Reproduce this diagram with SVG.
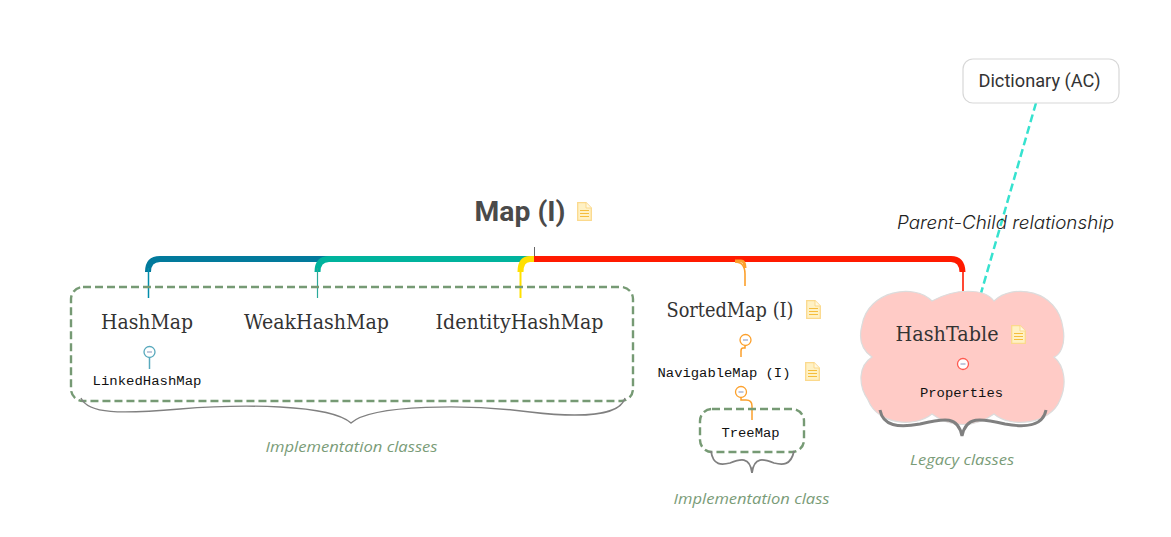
<svg xmlns="http://www.w3.org/2000/svg" width="1171" height="537" viewBox="0 0 1171 537">
<style>
.slab{font-family:"DejaVu Serif","Liberation Serif",serif;fill:#333;font-size:20px}
.mono{font-family:"Liberation Mono",monospace;fill:#111;font-size:12px}
.note{font-family:"Open Sans","Lato",sans-serif;font-style:italic;fill:#7a9c78;font-size:15px}
.dash{fill:none;stroke:#769a74;stroke-width:2.4;stroke-dasharray:8 4}
.brace{fill:none;stroke:#808080}
.col{fill:#fff;stroke-width:1.3}
.minus{fill:#c3c9dc}
</style>
<defs>
<g id="doc">
<path d="M0.700 0.700H9L14.300 6V18.300H0.700Z" fill="#fff1c4" stroke="#fbd98c" stroke-width="1.300"/>
<path d="M9 0.700V6H14.300" fill="#fff8e0" stroke="#fbd98c" stroke-width="1"/>
<path d="M3 8.500H12M3 11.500H12M3 14.500H12" stroke="#f5bd3c" stroke-width="1.100" fill="none"/>
</g>
</defs>
<g id="connectors" fill="none">
<path d="M534.500 247V262" stroke="#666" stroke-width="1"/>
<path d="M534 259H160Q148 259 148 272" stroke="#027a9c" stroke-width="6"/>
<path d="M148.500 268V298" stroke="#028cab" stroke-width="1.500"/>
<path d="M534 259H329Q317.500 259 317.500 272" stroke="#00b39d" stroke-width="6"/>
<path d="M317.500 268V298" stroke="#2aa99a" stroke-width="1.200"/>
<path d="M534 259H530Q520.500 259 520.500 272" stroke="#ffe000" stroke-width="6"/>
<path d="M520.500 268V298" stroke="#ffe000" stroke-width="2"/>
<path d="M534 259H951Q962 259 962.500 272" stroke="#ff1a00" stroke-width="6"/>
<path d="M963 268V310" stroke="#ff1a00" stroke-width="1.600"/>
<path d="M735 262Q745 262 745 274V286" stroke="#fca02c" stroke-width="1.600"/>
<path d="M735 261H741Q745 261 745 268" stroke="#fca02c" stroke-width="3"/>
<path d="M149.500 358V369" stroke="#58a9bd" stroke-width="1.500"/>
<path d="M745 347V351Q745 348 742 348" stroke="none"/>
<path d="M745 346V348H743Q741 348 741 351V357" stroke="#fca02c" stroke-width="1.500"/>
<path d="M741 398V400H746Q752 400 752 406V420" stroke="#fca02c" stroke-width="1.500"/>
<path d="M963 370V381" stroke="#ff6b60" stroke-width="1.700"/>
<path d="M1036 103L977 307" stroke="#36e2cf" stroke-width="2.500" stroke-dasharray="8 4"/>
<path d="M975 299L976 311L985 305" stroke="#36e2cf" stroke-width="2.500"/>
<path d="M1036 103L977 307" stroke="none"/>
</g>
<g id="map-root">
<text x="520" y="221" font-family="Roboto,sans-serif" font-weight="700" font-size="27" fill="#4a4a4a" text-anchor="middle" textLength="91" lengthAdjust="spacingAndGlyphs">Map (I)</text>
<use href="#doc" x="577" y="202"/>
</g>
<g id="impl-group">
<rect class="dash" x="71" y="287" width="562" height="114" rx="12"/>
<path class="brace" stroke-width="1.400" d="M81 398C88 414 120 414 180 409C240 404 330 404 351 423C372 404 470 404 530 412C580 418 620 416 625 398"/>
<text class="note" x="351.500" y="452" text-anchor="middle" textLength="172" lengthAdjust="spacingAndGlyphs">Implementation classes</text>
</g>
<g id="hashmap">
<text class="slab" x="147" y="329" text-anchor="middle" textLength="92" lengthAdjust="spacingAndGlyphs">HashMap</text>
<circle class="col" cx="149.500" cy="352" r="5.500" stroke="#58a9bd"/>
<rect class="minus" x="147" y="351" width="5" height="2"/>
<text class="mono" x="147" y="385" text-anchor="middle" textLength="109" lengthAdjust="spacingAndGlyphs">LinkedHashMap</text>
</g>
<g id="weakhashmap">
<text class="slab" x="316.500" y="329" text-anchor="middle" textLength="145" lengthAdjust="spacingAndGlyphs">WeakHashMap</text>
</g>
<g id="identityhashmap">
<text class="slab" x="519.500" y="329" text-anchor="middle" textLength="168" lengthAdjust="spacingAndGlyphs">IdentityHashMap</text>
</g>
<g id="sortedmap">
<text class="slab" x="730" y="317" text-anchor="middle" textLength="127" lengthAdjust="spacingAndGlyphs">SortedMap (I)</text>
<use href="#doc" x="806" y="300"/>
<circle class="col" cx="745.500" cy="340" r="5.500" stroke="#fca02c"/>
<rect class="minus" x="743" y="339" width="5" height="2"/>
</g>
<g id="navigablemap">
<text class="mono" x="724" y="377" text-anchor="middle" textLength="133" lengthAdjust="spacingAndGlyphs">NavigableMap (I)</text>
<use href="#doc" x="805" y="362"/>
<circle class="col" cx="741" cy="392" r="5.500" stroke="#fca02c"/>
<rect class="minus" x="738.500" y="391" width="5" height="2"/>
</g>
<g id="treemap">
<rect class="dash" x="700" y="409" width="104" height="43" rx="12"/>
<text class="mono" x="750.500" y="437" text-anchor="middle" textLength="58" lengthAdjust="spacingAndGlyphs">TreeMap</text>
<path class="brace" stroke-width="1.800" d="M711 451C713 466 722 465 730 463C740 459 750 456 752 473C754 456 764 459 774 463C782 465 791 466 794 451"/>
<text class="note" x="751.500" y="504" text-anchor="middle" textLength="156" lengthAdjust="spacingAndGlyphs">Implementation class</text>
</g>
<g id="hashtable">
<path d="M932 301C955 288 985 288 994 301C1012 283 1058 289 1063 328C1066 345 1060 355 1054 357C1065 366 1067 385 1060 400C1050 425 1010 428 994 414C975 428 950 428 932 414C915 428 878 425 868 400C858 385 858 366 872 357C862 350 858 340 862 325C868 290 915 283 932 301Z" fill="#ffcbc6" stroke="#dcdcdc" stroke-width="1.200"/>
<text class="slab" x="947" y="341" text-anchor="middle" textLength="103" lengthAdjust="spacingAndGlyphs">HashTable</text>
<use href="#doc" x="1011" y="325"/>
<circle class="col" cx="963" cy="364" r="5.500" stroke="#ff5a50"/>
<rect class="minus" x="960.500" y="363" width="5" height="2"/>
<text class="mono" x="961.500" y="397" text-anchor="middle" textLength="83" lengthAdjust="spacingAndGlyphs">Properties</text>
<path class="brace" fill="none" stroke-width="3" d="M880 410C883 426 898 428 920 424C945 418 958 416 962 436C966 416 980 418 1005 424C1027 428 1043 426 1046 410"/>
<text class="note" x="962" y="465" text-anchor="middle" textLength="104" lengthAdjust="spacingAndGlyphs">Legacy classes</text>
</g>
<g id="dictionary">
<rect x="963" y="59" width="156" height="44" rx="10" fill="#fff" stroke="#d8d8d8" stroke-width="1.200"/>
<text x="1039.500" y="87" font-family="Roboto,sans-serif" font-size="18" fill="#333" text-anchor="middle" textLength="122" lengthAdjust="spacingAndGlyphs">Dictionary (AC)</text>
</g>
<text id="relationship" x="1005.500" y="229" font-family="Inter,Lato,sans-serif" font-style="italic" font-weight="300" font-size="18" fill="#222" text-anchor="middle" textLength="217" lengthAdjust="spacingAndGlyphs">Parent-Child relationship</text>
</svg>
